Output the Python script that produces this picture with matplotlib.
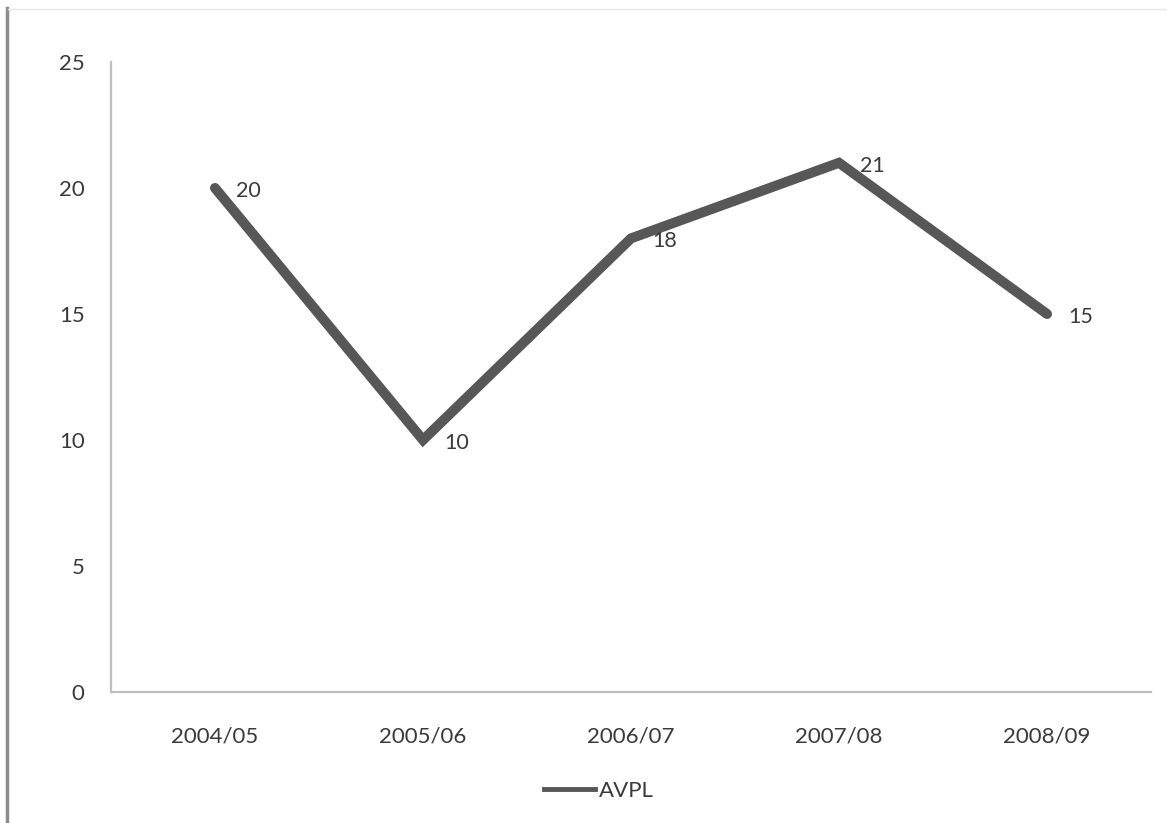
import matplotlib.pyplot as plt
from matplotlib.lines import Line2D

# AVPL by financial year
years = ["2004/05", "2005/06", "2006/07", "2007/08", "2008/09"]
avpl = [20, 10, 18, 21, 15]
y_ticks = [0, 5, 10, 15, 20, 25]

LINE = "#575757"
TEXT = "#3a3a3a"
AXIS = "#bfbfbf"

plt.rcParams["font.family"] = ["Lato", "DejaVu Sans"]
fig = plt.figure(figsize=(11.67, 8.23), dpi=100)
fig.patch.set_facecolor("white")

ax = fig.add_axes([0.0951, 0.1592, 0.8912, 0.7655])
x = list(range(len(years)))
ax.plot(x, avpl, color=LINE, linewidth=7.2, solid_capstyle="round",
        solid_joinstyle="miter", label="AVPL")

for xi, v in zip(x, avpl):
    ax.annotate(str(v), (xi, v), xytext=(15, -2), textcoords="offset points",
                ha="left", va="center", fontsize=15.5, color=TEXT)

ax.set_xlim(-0.5, len(years) - 0.5)
ax.set_ylim(0, 25)
ax.set_xticks(x)
ax.set_xticklabels(years)
ax.set_yticks(y_ticks)
ax.tick_params(axis="both", length=0, labelsize=16, labelcolor=TEXT)
ax.tick_params(axis="x", pad=25)
ax.tick_params(axis="y", pad=19)

for side in ("top", "right"):
    ax.spines[side].set_visible(False)
for side in ("left", "bottom"):
    ax.spines[side].set_color(AXIS)
    ax.spines[side].set_linewidth(1.6)

handle = Line2D([], [], color=LINE, linewidth=3.5)
fig.legend([handle], ["AVPL"], loc="center", bbox_to_anchor=(0.513, 0.039),
           frameon=False, fontsize=16, labelcolor=TEXT,
           handlelength=2.3, handletextpad=0.15)

# frame edges of the chart area
fig.add_artist(Line2D([0.006, 0.006], [0, 0.99], color="#8c8c8c", linewidth=2.5,
                      transform=fig.transFigure))
fig.add_artist(Line2D([0.007, 1.0], [0.989, 0.989], color="#e6e6e6", linewidth=1.0,
                      transform=fig.transFigure))

fig.savefig("out.png", dpi=100, facecolor=fig.get_facecolor())
